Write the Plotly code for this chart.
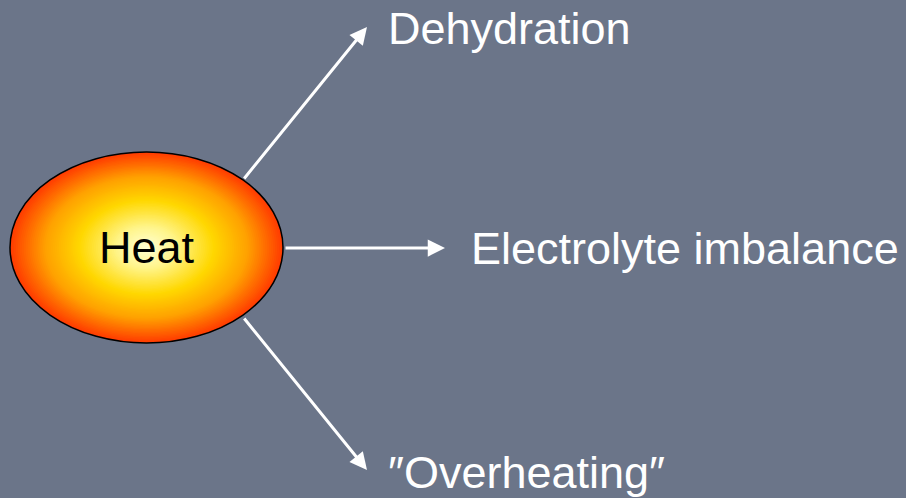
import plotly.graph_objects as go

# ---- content ----
center_label = "Heat"
effect_labels = ["Dehydration", "Electrolyte imbalance", "″Overheating″"]

# ---- layout (pixels in a 906x498 canvas) ----
W, H = 906, 498
BG = "#6B7589"
ell_cx, ell_cy, ell_rx, ell_ry = 146.5, 247.5, 136.5, 95.5
arrow_tails = [(243, 180), (284, 248), (243, 317)]
arrow_heads = [(367, 27), (445, 248), (367, 470)]
label_pos = [(386, 28), (469, 248), (386, 472)]

grad_stops = [(0.0, (255, 255, 215)), (0.22, (255, 245, 140)), (0.5, (255, 215, 0)),
              (0.75, (255, 160, 0)), (1.0, (255, 60, 0))]


def grad_color(t):
    for (t0, c0), (t1, c1) in zip(grad_stops[:-1], grad_stops[1:]):
        if t0 <= t <= t1:
            f = (t - t0) / (t1 - t0)
            c = [round(a + (b - a) * f) for a, b in zip(c0, c1)]
            return "rgb(%d,%d,%d)" % tuple(c)
    return "rgb(%d,%d,%d)" % grad_stops[-1][1]


fig = go.Figure()
fig.add_trace(go.Scatter(x=[0, W], y=[0, H], mode="markers",
                         marker=dict(opacity=0), hoverinfo="skip", showlegend=False))

shapes = []
N = 70
for i in range(N):
    s = 1 - i / N
    shapes.append(dict(
        type="circle", xref="x", yref="y",
        x0=ell_cx - ell_rx * s, x1=ell_cx + ell_rx * s,
        y0=ell_cy - ell_ry * s, y1=ell_cy + ell_ry * s,
        fillcolor=grad_color(s), line=dict(width=0), layer="above"))
shapes.append(dict(type="circle", xref="x", yref="y",
                   x0=ell_cx - ell_rx, x1=ell_cx + ell_rx,
                   y0=ell_cy - ell_ry, y1=ell_cy + ell_ry,
                   fillcolor="rgba(0,0,0,0)", line=dict(color="black", width=1.5),
                   layer="above"))

annotations = []
for (tx, ty), (hx, hy) in zip(arrow_tails, arrow_heads):
    annotations.append(dict(x=hx, y=hy, ax=tx, ay=ty, xref="x", yref="y",
                            axref="x", ayref="y", text="", showarrow=True,
                            arrowhead=2, arrowsize=1.15, arrowwidth=3,
                            arrowcolor="white"))
for lab, (lx, ly) in zip(effect_labels, label_pos):
    annotations.append(dict(x=lx, y=ly, xref="x", yref="y", text=lab,
                            showarrow=False, xanchor="left", yanchor="middle",
                            font=dict(family="Liberation Sans, Arial", size=45,
                                      color="white")))
annotations.append(dict(x=ell_cx, y=ell_cy, xref="x", yref="y", text=center_label,
                        showarrow=False, xanchor="center", yanchor="middle",
                        font=dict(family="Liberation Sans, Arial", size=45,
                                  color="black")))

fig.update_layout(
    width=W, height=H, margin=dict(l=0, r=0, t=0, b=0),
    paper_bgcolor=BG, plot_bgcolor=BG,
    xaxis=dict(range=[0, W], visible=False, fixedrange=True),
    yaxis=dict(range=[H, 0], visible=False, fixedrange=True),
    shapes=shapes, annotations=annotations, showlegend=False,
)

fig.write_html("out.html", config={"displayModeBar": False},
               post_script="document.body.style.margin='0';document.body.style.overflow='hidden';")
